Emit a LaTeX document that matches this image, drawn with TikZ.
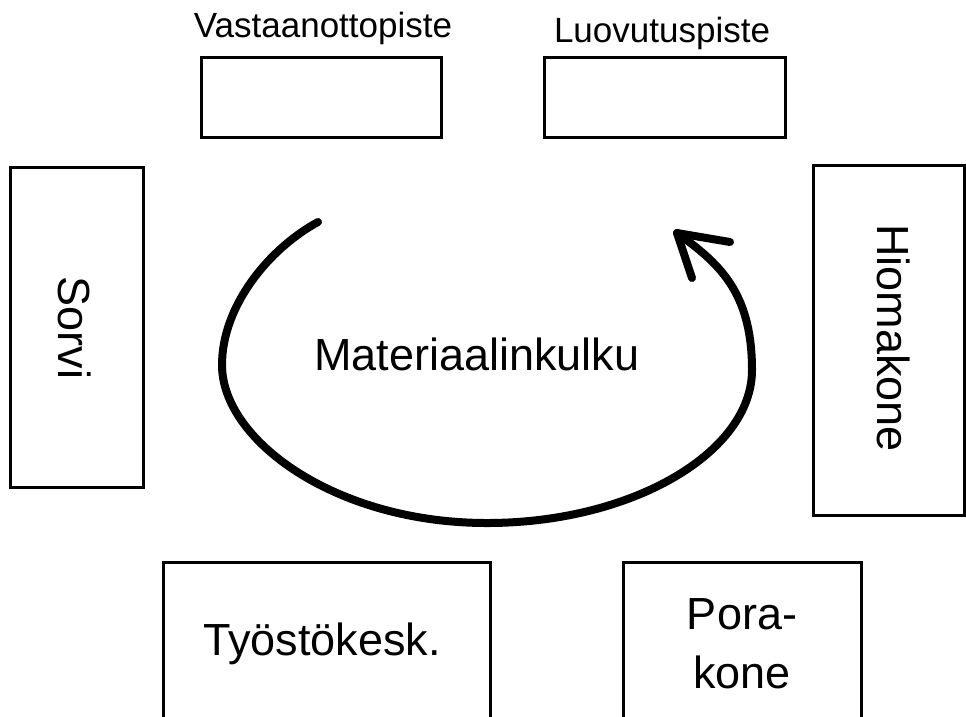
\documentclass[tikz,border=0pt]{standalone}
\usepackage{fontspec}
\setmainfont{Liberation Sans}
\begin{document}
\begin{tikzpicture}[x=1pt,y=-1pt,
  station/.style={draw=black, line width=3pt, inner sep=0pt, outer sep=0pt},
  bigtext/.style={font=\fontsize{45}{59}\selectfont, inner sep=0pt},
  smalltext/.style={font=\fontsize{35}{42}\selectfont, inner sep=0pt},
  flow/.style={draw=black, line width=8pt, line cap=round, line join=round}]
\useasboundingbox (0,0) rectangle (966,716);
\clip (0,0) rectangle (966,716);

% pick-up and hand-over points
\node[station, minimum width=240pt, minimum height=80pt] (recv) at (321,97) {};
\node[station, minimum width=241pt, minimum height=80pt] (deliv) at (664.5,97) {};
\node[smalltext, anchor=base] (recvlabel) at (323,37) {Vastaanottopiste};
\node[smalltext, anchor=base] (delivlabel) at (662,42) {Luovutuspiste};

% machines around the loop
\node[station, minimum width=133pt, minimum height=320pt] (lathe) at (76.5,327) {};
\node[station, minimum width=151pt, minimum height=350pt] (grinder) at (888.5,340) {};
\node[station, minimum width=327pt, minimum height=178pt] (centre) at (326.5,651) {};
\node[station, minimum width=238pt, minimum height=178pt] (drill) at (742,651) {};

\node[bigtext, rotate=-90, anchor=base] (lathetext) at (58,328) {Sorvi};
\node[bigtext, rotate=-90, anchor=base] (grindertext) at (877,338) {Hiomakone};
\node[bigtext, anchor=base] (centretext) at (322,655) {Työstökesk.};
\node[bigtext, anchor=north, align=center] (drilltext) at (742,598) {Pora-\\kone};

% material flow loop
\node[bigtext, anchor=base] (flowtext) at (477,370) {Materiaalinkulku};
\coordinate (start) at (318,222);
\coordinate (west) at (222,365);
\coordinate (south) at (487,523);
\coordinate (east) at (752,370);
\coordinate (tip) at (677,233);
\draw[flow] (start) .. controls (270,248) and (222,305) .. (west)
  .. controls (222,440) and (335,523) .. (south)
  .. controls (633,523) and (752,452) .. (east)
  .. controls (752,290) and (717,262) .. (tip);
\draw[flow] ([shift={(53,9)}]tip) -- (tip) -- ++(15,45);
\end{tikzpicture}
\end{document}
